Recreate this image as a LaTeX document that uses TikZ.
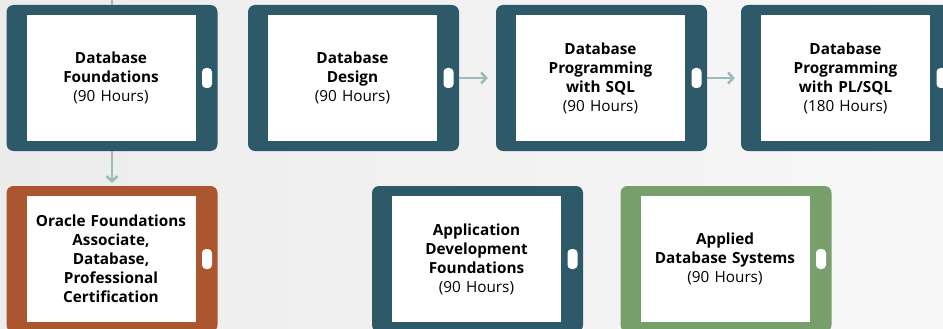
\documentclass[tikz,border=0pt]{standalone}
\usepackage{fontspec}
\setmainfont{Open Sans}
\usetikzlibrary{arrows.meta}
\definecolor{slate}{HTML}{2D5968}
\definecolor{rust}{HTML}{AC5630}
\definecolor{sage}{HTML}{779E6B}
\definecolor{flowgray}{HTML}{9DB9BB}
\definecolor{paper}{HTML}{ECECEC}
\begin{document}
\begin{tikzpicture}[x=1pt,y=-1pt,
  tablet/.style={rounded corners=7pt,minimum width=211pt,minimum height=146pt,inner sep=0pt},
  screen/.style={fill=white,minimum width=169pt,minimum height=126pt,inner sep=0pt,
    text width=169pt,align=center,font=\fontsize{15.3}{19}\selectfont,text=black},
  button/.style={fill=white,rounded corners=4pt,minimum width=10pt,minimum height=20pt,inner sep=0pt},
  flow/.style={draw=flowgray,line width=2.5pt,-{Straight Barb[length=5pt,width=11pt]}}]
\clip (0,0) rectangle (943,329);
\shade[left color=paper,right color=paper!40] (0,0) rectangle (943,329);
% top row
\node[tablet,fill=slate] (fnd) at (112,78) {};
\node[screen,xshift=-1pt] (fnd-s) at (fnd) {\textbf{Database}\\\textbf{Foundations}\\(90 Hours)};
\node[button,xshift=95pt] (fnd-b) at (fnd) {};
\node[tablet,fill=slate] (des) at (353.5,78) {};
\node[screen,xshift=-1pt] (des-s) at (des) {\textbf{Database}\\\textbf{Design}\\(90 Hours)};
\node[button,xshift=95pt] (des-b) at (des) {};
\node[tablet,fill=slate] (sql) at (601.5,78) {};
\node[screen,xshift=-1pt] (sql-s) at (sql) {\textbf{Database}\\\textbf{Programming}\\\textbf{with SQL}\\(90 Hours)};
\node[button,xshift=95pt] (sql-b) at (sql) {};
\node[tablet,fill=slate] (plsql) at (846.5,78) {};
\node[screen,xshift=-1pt] (plsql-s) at (plsql) {\textbf{Database}\\\textbf{Programming}\\\textbf{with PL/SQL}\\(180 Hours)};
\node[button,xshift=95pt] (plsql-b) at (plsql) {};
% bottom row
\node[tablet,fill=rust] (cert) at (112,259) {};
\node[screen,xshift=-1pt] (cert-s) at (cert) {\textbf{Oracle Foundations}\\\textbf{Associate,}\\\textbf{Database,}\\\textbf{Professional}\\\textbf{Certification}};
\node[button,xshift=95pt] (cert-b) at (cert) {};
\node[tablet,fill=slate] (app) at (477.5,259) {};
\node[screen,xshift=-1pt] (app-s) at (app) {\textbf{Application}\\\textbf{Development}\\\textbf{Foundations}\\(90 Hours)};
\node[button,xshift=95pt] (app-b) at (app) {};
\node[tablet,fill=sage] (sys) at (726,259) {};
\node[screen,xshift=-1pt] (sys-s) at (sys) {\textbf{Applied}\\\textbf{Database Systems}\\(90 Hours)};
\node[button,xshift=95pt] (sys-b) at (sys) {};
% connectors
\coordinate (in) at (112,-5);
\draw[draw=flowgray,line width=2.5pt] (in) -- (fnd);
\draw[flow,shorten >=3pt] (fnd) -- (cert);
\draw[flow,shorten >=8pt] (des) -- (sql);
\draw[flow,shorten >=6pt] (sql) -- (plsql);
\end{tikzpicture}
\end{document}
